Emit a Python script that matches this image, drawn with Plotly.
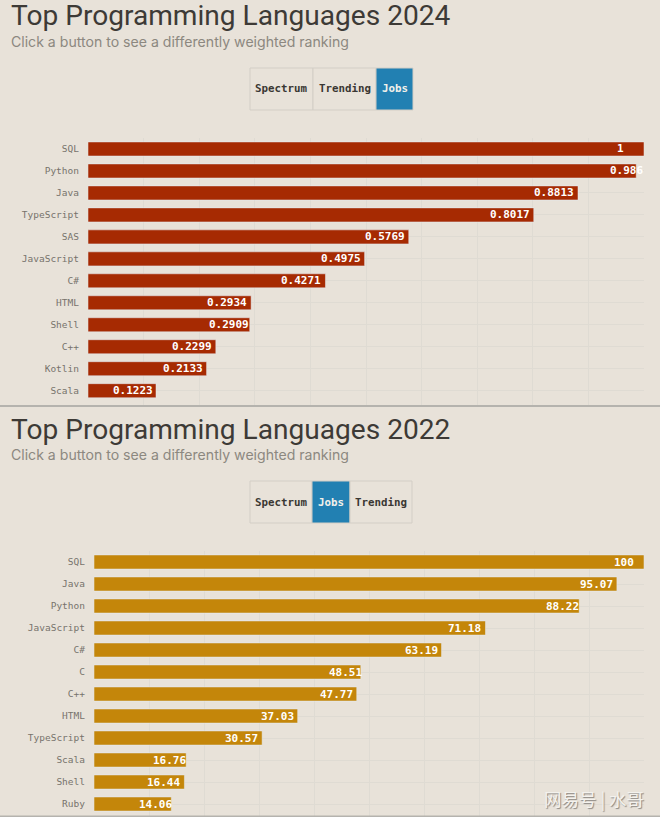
import plotly.graph_objects as go

# 2024 ranking (jobs weighting)
langs_2024 = ['SQL','Python','Java','TypeScript','SAS','JavaScript','C#','HTML','Shell','C++','Kotlin','Scala']
jobs_2024 = [1,0.986,0.8813,0.8017,0.5769,0.4975,0.4271,0.2934,0.2909,0.2299,0.2133,0.1223]

# 2022 ranking (jobs weighting)
langs_2022 = ['SQL','Java','Python','JavaScript','C#','C','C++','HTML','TypeScript','Scala','Shell','Ruby']
jobs_2022 = [100,95.07,88.22,71.18,63.19,48.51,47.77,37.03,30.57,16.76,16.44,14.06]

buttons_2024 = ['Spectrum','Trending','Jobs']
buttons_2022 = ['Spectrum','Jobs','Trending']

W = 660
H = 817
BG = '#e8e2d9'
GRID = '#dfdbd3'
MONO = 'DejaVu Sans Mono'
SANS = 'Inter'

# labels that sit off the usual spot in the original
shift_2024 = {'SQL':-18,'Python':9,'Shell':1,'Scala':-1}
shift_2022 = {'SQL':-8,'Python':2,'C':3,'Scala':2,'Ruby':3}

def px(x):
    return x/W
def py(y):
    return 1-y/H

fig = go.Figure()

fig.add_trace(go.Bar(x=jobs_2024,y=langs_2024,orientation='h',marker_color='#a62a02',
                     xaxis='x',yaxis='y',hoverinfo='x+y'))
fig.add_trace(go.Bar(x=jobs_2022,y=langs_2022,orientation='h',marker_color='#c4860a',
                     xaxis='x2',yaxis='y2',hoverinfo='x+y'))

#value labels
for x,y in zip(jobs_2024,langs_2024):
    fig.add_annotation(x=x,y=y,xref='x',yref='y',text=str(x),showarrow=False,xanchor='right',
                       xshift=shift_2024.get(y,-2),font=dict(family=MONO,size=11,color='white',weight='bold'))
for x,y in zip(jobs_2022,langs_2022):
    fig.add_annotation(x=x,y=y,xref='x2',yref='y2',text=str(x),showarrow=False,xanchor='right',
                       xshift=shift_2022.get(y,-2),font=dict(family=MONO,size=11,color='white',weight='bold'))

#titles
def head(title,top):
    fig.add_annotation(x=px(9),y=py(top),xref='paper',yref='paper',text=title,showarrow=False,
                       xanchor='left',yanchor='middle',font=dict(family='Roboto',size=28.1,color='#3d3a36'))
    fig.add_annotation(x=px(9),y=py(top+26),xref='paper',yref='paper',text='Click a button to see a differently weighted ranking',
                       showarrow=False,xanchor='left',yanchor='middle',font=dict(family=SANS,size=14.1,color='#8c8880'))

head('Top Programming Languages 2024',16)
head('Top Programming Languages 2022',429)

#the fake button row
def button_row(names,edges,top,bottom,active):
    for i,name in enumerate(names):
        on = name==active
        fig.add_shape(type='rect',xref='paper',yref='paper',x0=px(edges[i]),x1=px(edges[i+1]),y0=py(top),y1=py(bottom),
                      fillcolor='#2280b2' if on else BG,line=dict(color='#d3cec6',width=1),layer='above')
        fig.add_annotation(x=px((edges[i]+edges[i+1])/2),y=py((top+bottom)/2),xref='paper',yref='paper',text=name,showarrow=False,
                           xanchor='center',yanchor='middle',
                           font=dict(family=MONO,size=10.8,weight='bold',color='#f2f0ea' if on else '#3a3733'))

button_row(buttons_2024,[250,313,376,413],68,110,'Jobs')
button_row(buttons_2022,[250,312,350,412],481,523,'Jobs')

#separator between the two screenshots
fig.add_shape(type='rect',xref='paper',yref='paper',x0=0,x1=1,y0=py(407),y1=py(405),fillcolor='#b5b3ae',line_width=0,layer='above')
fig.add_shape(type='rect',xref='paper',yref='paper',x0=0,x1=1,y0=py(817),y1=py(815.5),fillcolor='#b5b3ae',line_width=0,layer='above')

#watermark
fig.add_annotation(x=px(646),y=py(798),xref='paper',yref='paper',text='网易号 | 水哥',showarrow=False,xanchor='right',yanchor='middle',
                   font=dict(family='Noto Sans CJK SC',size=17.5,color='#f4f2ee',shadow='1px 1px 1px #8a8680'))

xstyle = dict(showgrid=True,gridcolor=GRID,gridwidth=1,zeroline=False,showticklabels=False,ticks='')
ystyle = dict(showgrid=True,gridcolor=GRID,gridwidth=1,ticks='',ticklen=0,ticklabelstandoff=8,
              tickfont=dict(family=MONO,size=9.5,color='#77736c'),categoryorder='array')

fig.update_layout(
    width=W,height=H,margin=dict(l=0,r=0,t=0,b=0),
    paper_bgcolor=BG,plot_bgcolor=BG,
    showlegend=False,bargap=0.36,
    xaxis=dict(domain=[px(88),px(644)],range=[0,1],dtick=0.1,anchor='y',**xstyle),
    yaxis=dict(domain=[py(405),py(138)],range=[11.65,-0.5],anchor='x',categoryarray=langs_2024,**ystyle),
    xaxis2=dict(domain=[px(94),px(644)],range=[0,100],dtick=10,anchor='y2',**xstyle),
    yaxis2=dict(domain=[py(817),py(551)],range=[11.59,-0.5],anchor='x2',categoryarray=langs_2022,**ystyle),
)

#no page margin so the figure fills the window
fig.write_html("out.html",config=dict(displayModeBar=False),post_script="document.body.style.margin='0';")
